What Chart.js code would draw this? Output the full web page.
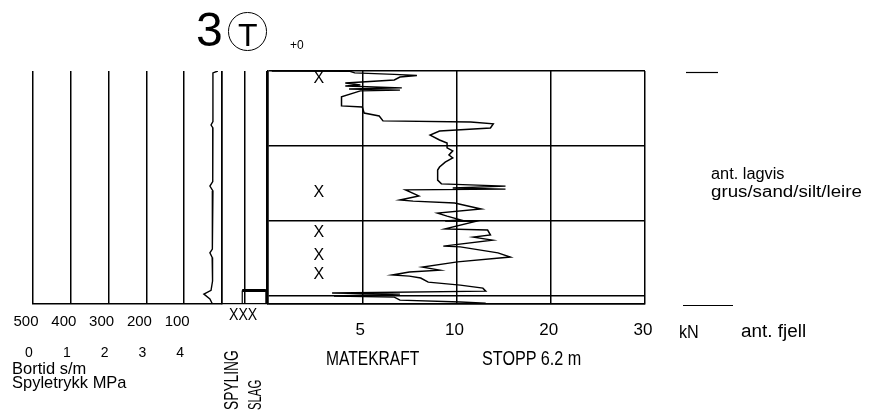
<!DOCTYPE html>
<html>
<head>
<meta charset="utf-8">
<script src="https://cdn.jsdelivr.net/npm/chart.js@4.4.1/dist/chart.umd.min.js"></script>
<style>
  html, body { margin: 0; padding: 0; background: #fff; }
  #wrap { position: relative; width: 870px; height: 419px; overflow: hidden; background: #fff; }
  #wrap canvas { position: absolute; left: 0; top: 0; }
  .t { position: absolute; white-space: nowrap; color: #000; font-family: 'Liberation Sans', Arial, sans-serif; transform-origin: 0 0; }
</style>
</head>
<body>
<div id="wrap">
  <canvas id="cBortid" width="870" height="419"></canvas>
  <canvas id="cSlag" width="870" height="419"></canvas>
  <canvas id="cForce" width="870" height="419"></canvas>

  <div class="t" style="left:196px;top:6.4px;font-size:48px;line-height:48px">3</div>
  <div style="position:absolute;left:228.25px;top:12.25px;width:38.5px;height:38.5px;box-sizing:border-box;border:1.5px solid #000;border-radius:50%"></div>
  <div class="t" style="left:238px;top:18.9px;font-size:32px;line-height:32px">T</div>
  <div class="t" style="left:290px;top:38.8px;font-size:12px;line-height:12px">+0</div>

  <div class="t" style="left:12px;top:359.6px;font-size:17px;line-height:17px;transform:scaleX(0.97)">Bortid s/m</div>
  <div class="t" style="left:12px;top:373.6px;font-size:17px;line-height:17px;transform:scaleX(0.97)">Spyletrykk MPa</div>
  <div class="t" style="left:229px;top:306.5px;font-size:16px;line-height:16px;transform:scaleX(0.88)">XXX</div>
  <div class="t" style="left:221px;top:410px;font-size:20px;line-height:20px;transform:rotate(-90deg) scaleX(0.69)">SPYLING</div>
  <div class="t" style="left:245.5px;top:410px;font-size:18px;line-height:18px;transform:rotate(-90deg) scaleX(0.63)">SLAG</div>

  <div class="t" style="left:326px;top:348.1px;font-size:20px;line-height:20px;transform:scaleX(0.78)">MATEKRAFT</div>
  <div class="t" style="left:482px;top:348.1px;font-size:20px;line-height:20px;transform:scaleX(0.81)">STOPP 6.2 m</div>
  <div class="t" style="left:679px;top:322.8px;font-size:18px;line-height:18px;transform:scaleX(0.9)">kN</div>
  <div class="t" style="left:741px;top:321.8px;font-size:18px;line-height:18px;transform:scaleX(1.05)">ant. fjell</div>
  <div class="t" style="left:711px;top:165.5px;font-size:16px;line-height:16px;transform:scaleX(1.02)">ant. lagvis</div>
  <div class="t" style="left:711px;top:183.5px;font-size:16px;line-height:16px;transform:scaleX(1.17)">grus/sand/silt/leire</div>
</div>

<script>
// bortid (s/m) against depth (m)
const bortidDepth = [0, 0.05, 1.35, 1.44, 1.52, 2.0, 2.95, 3.07, 3.2, 4.0, 4.75, 4.85, 4.97, 5.6, 5.85, 5.95, 6.08, 6.2];
const bortidValue = [11, 24, 24, 29, 24, 25, 24, 32, 24, 25, 26, 32, 26, 25, 29, 48, 32, 26];
const bortidTickLabels = ['', '100', '200', '300', '400', '500'];
const spyleTickLabels = ['0', '1', '2', '3', '4', ''];

// matekraft (kN) against depth (m)
const forceDepth = [0, 0.01, 0.05, 0.09, 0.12, 0.16, 0.24, 0.32, 0.37, 0.40,
  0.45, 0.48, 0.51, 0.53, 0.69, 0.93, 0.96, 1.12, 1.20, 1.33,
  1.36, 1.41, 1.52, 1.60, 1.71, 1.84, 1.92, 2.05, 2.13, 2.24,
  2.32, 2.43, 2.56, 2.64, 2.91, 3.01, 3.07, 3.12, 3.15, 3.17,
  3.33, 3.44, 3.47, 3.52, 3.68, 3.79, 3.87, 3.97, 4.00, 4.01,
  4.21, 4.24, 4.37, 4.43, 4.51, 4.67, 4.69, 4.85, 4.96, 5.09,
  5.23, 5.31, 5.36, 5.44, 5.47, 5.52, 5.63, 5.71, 5.79, 5.87,
  5.92, 5.95, 6.00, 6.03, 6.11, 6.16, 6.19];
const forceKN = [0.2, 4.35, 4.6, 6.7, 7.9, 7.0, 6.7, 4.1, 4.9, 4.1,
  7.1, 4.3, 7.0, 4.9, 3.9, 3.9, 5.0, 5.1, 5.9, 6.1,
  11.5, 13.9, 13.6, 9.1, 8.6, 9.1, 9.5, 9.5, 9.8, 9.6,
  9.8, 9.4, 9.1, 9.0, 9.0, 9.2, 15.2, 9.8, 15.2, 7.3,
  8.0, 7.0, 7.7, 9.9, 12.6, 9.0, 9.5, 10.4, 9.4, 12.0,
  9.4, 13.3, 13.6, 11.8, 13.8, 9.3, 10.4, 14.4, 15.7, 10.1,
  8.2, 9.1, 7.5, 6.6, 7.5, 8.1, 8.5, 10.4, 12.8, 13.1,
  3.4, 7.0, 3.5, 6.7, 7.0, 10.4, 13.1];
const forceBreaks = [0, 5, 10, 20, 30];
const forceTickLabels = ['', '5', '10', '20', '30'];
const depthGrid = [0, 2, 4, 6, 6.2];

// X marks in the force column
const xMarkDepth = [0.19, 3.23, 4.32, 4.91, 5.44];
const xMarkForce = 2.7;

// spyling / slag interval (m) and layer boundaries (m)
const slagInterval = [5.85, 6.2];
const layerDepth = [0.03, 6.25];

const FONT = "'Liberation Sans'";
Chart.defaults.color = '#000';
Chart.defaults.font.family = FONT;

// piecewise kN axis: 0-5-10 then 20-30 at equal spacing
function forceToAxis(kn) {
  for (let i = 1; i < forceBreaks.length; i++) {
    if (kn <= forceBreaks[i]) return i - 1 + (kn - forceBreaks[i - 1]) / (forceBreaks[i] - forceBreaks[i - 1]);
  }
  return forceBreaks.length - 1;
}

const base = {
  responsive: false, animation: false, devicePixelRatio: 1, events: [],
  plugins: { legend: { display: false }, tooltip: { enabled: false } }
};
const grid = { color: '#000', lineWidth: 1.5, drawTicks: false };
const depthAxis = (extra) => Object.assign({ type: 'linear', min: 0, max: 6.2, reverse: true }, extra);

// left panel: bortid / spyletrykk
new Chart(document.getElementById('cBortid'), {
  type: 'scatter',
  data: {
    datasets: [{
      xAxisID: 'xb',
      data: bortidDepth.map((d, i) => ({ x: bortidValue[i], y: d })),
      showLine: true, borderColor: '#000', borderWidth: 1.4, pointRadius: 0, tension: 0
    }]
  },
  options: Object.assign({}, base, {
    layout: { padding: { left: 33, right: 648, top: 71, bottom: 45.5 } },
    scales: {
      xb: {
        type: 'linear', position: 'bottom', weight: 0, reverse: true, min: 0, max: 500,
        afterBuildTicks: s => { s.ticks = [0, 100, 200, 300, 400, 500].map(v => ({ value: v })); },
        afterFit: s => { s.height = 30; },
        grid: grid, border: { color: '#000', width: 1.5 },
        ticks: { padding: 9, labelOffset: -7, autoSkip: false, maxRotation: 0,
          font: { size: 15 }, callback: (v, i) => bortidTickLabels[i] }
      },
      xs: {
        type: 'linear', position: 'bottom', weight: 1, min: 0, max: 5,
        afterBuildTicks: s => { s.ticks = [0, 1, 2, 3, 4, 5].map(v => ({ value: v })); },
        afterFit: s => { s.height = 40; },
        grid: { display: false }, border: { display: false },
        ticks: { padding: 3, labelOffset: -4, autoSkip: false, maxRotation: 0,
          font: { size: 14 }, callback: (v, i) => spyleTickLabels[i] }
      },
      y: depthAxis({ display: false })
    }
  })
});

// spyling / slag columns
const sx0 = 0.9, sx1 = 1.95;
new Chart(document.getElementById('cSlag'), {
  type: 'scatter',
  data: {
    datasets: [{
      data: [{ x: sx0, y: slagInterval[0] }, { x: sx1, y: slagInterval[0] }, { x: sx1, y: slagInterval[1] },
             { x: sx0, y: slagInterval[1] }, { x: sx0, y: slagInterval[0] }],
      showLine: true, borderColor: '#000', borderWidth: 1.2, pointRadius: 0, tension: 0
    }, {
      data: [{ x: sx0, y: slagInterval[0] }, { x: sx1, y: slagInterval[0] }],
      showLine: true, borderColor: '#000', borderWidth: 3, pointRadius: 0
    }]
  },
  options: Object.assign({}, base, {
    layout: { padding: { left: 222, right: 603, top: 71, bottom: 115.5 } },
    scales: {
      x: {
        type: 'linear', min: 0, max: 2,
        afterBuildTicks: s => { s.ticks = [0, 1, 2].map(v => ({ value: v })); },
        afterFit: s => { s.height = 0; },
        grid: grid, border: { color: '#000', width: 1.2 },
        ticks: { display: false }
      },
      y: depthAxis({ display: false })
    }
  })
});

// X marks and layer boundary ticks
const marksPlugin = {
  id: 'marks',
  afterDatasetsDraw(chart) {
    const { ctx, chartArea } = chart;
    const x = chart.scales.x, y = chart.scales.y;
    ctx.save();
    ctx.fillStyle = '#000';
    ctx.font = '16px ' + FONT;
    ctx.textAlign = 'center';
    ctx.textBaseline = 'middle';
    xMarkDepth.forEach(d => ctx.fillText('X', x.getPixelForValue(forceToAxis(xMarkForce)), y.getPixelForValue(d)));
    ctx.strokeStyle = '#000';
    ctx.lineWidth = 1.2;
    const spans = [[41, 73], [38, 88]];
    layerDepth.forEach((d, i) => {
      const py = Math.round(y.getPixelForValue(d)) + 0.5;
      ctx.beginPath();
      ctx.moveTo(chartArea.right + spans[i][0], py);
      ctx.lineTo(chartArea.right + spans[i][1], py);
      ctx.stroke();
    });
    ctx.restore();
  }
};

// main panel: matekraft
new Chart(document.getElementById('cForce'), {
  type: 'scatter',
  data: {
    datasets: [{
      data: forceDepth.map((d, i) => ({ x: forceToAxis(forceKN[i]), y: d })),
      showLine: true, borderColor: '#000', borderWidth: 1.5, pointRadius: 0, tension: 0
    }]
  },
  options: Object.assign({}, base, {
    layout: { padding: { left: 268, right: 225, top: 71, bottom: 75.5 } },
    scales: {
      x: {
        type: 'linear', min: 0, max: 4,
        afterBuildTicks: s => { s.ticks = [0, 1, 2, 3, 4].map(v => ({ value: v })); },
        afterFit: s => { s.height = 40; },
        grid: grid, border: { color: '#000', width: 1.5 },
        ticks: { padding: 16.3, labelOffset: -2, autoSkip: false, maxRotation: 0,
          font: { size: 17 }, callback: (v, i) => forceTickLabels[i] }
      },
      y: depthAxis({
        afterBuildTicks: s => { s.ticks = depthGrid.map(v => ({ value: v })); },
        afterFit: s => { s.width = 0; },
        grid: grid, border: { color: '#000', width: 1.5 },
        ticks: { display: false }
      })
    }
  }),
  plugins: [marksPlugin]
});
</script>
</body>
</html>
